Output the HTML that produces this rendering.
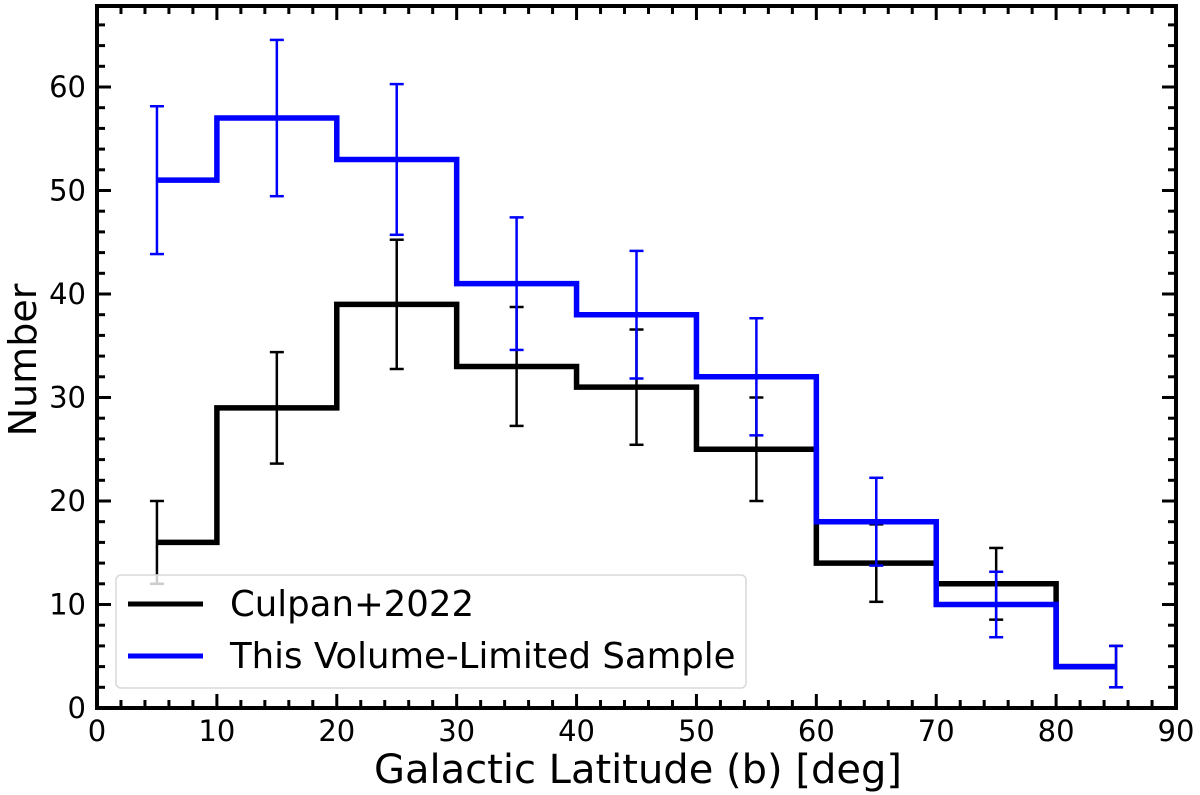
<!DOCTYPE html>
<html><head><meta charset="utf-8"><style>
html,body{margin:0;padding:0;background:#fff;}
svg{display:block;font-family:"DejaVu Sans","Liberation Sans",sans-serif;}
</style></head><body>
<svg id="chart" width="1200" height="795" viewBox="0 0 1200 795"></svg>
<script>
const centers=[5,15,25,35,45,55,65,75,85];
const culpan=[16,29,39,33,31,25,14,12,4];
const volume=[51,57,53,41,38,32,18,10,4];
const xTicks=[0,10,20,30,40,50,60,70,80,90];
const yTicks=[0,10,20,30,40,50,60];
const L=97,R=1176,T=6,B=708;
const xs=v=>L+(v/90)*(R-L);
const ys=v=>B-v*10.35;
const svg=document.getElementById('chart');
const NS='http://www.w3.org/2000/svg';
function mk(tag,attrs,parent){const e=document.createElementNS(NS,tag);for(const k in attrs)e.setAttribute(k,attrs[k]);(parent||svg).appendChild(e);return e;}
function series(vals,color,name){
  const g=mk('g',{});
  
  
  let d='';
  vals.forEach((v,i)=>{const x0=xs(Math.max(centers[i]-5,5)),x1=xs(centers[i]+5>85?85:centers[i]+5);
    d+=(i===0?'M':'L')+x0+','+ys(v)+' L'+x1+','+ys(v)+' ';});
  const p=mk('path',{d:d,fill:'none',stroke:color,'stroke-width':5.5,'stroke-linejoin':'miter'},g);
  
  
  vals.forEach((v,i)=>{const e=Math.sqrt(v),x=xs(centers[i]);
    const eb=mk('g',{stroke:color,'stroke-width':2.5},g);
    
    
    mk('line',{x1:x,x2:x,y1:ys(v-e),y2:ys(v+e)},eb);
    mk('line',{x1:x-7,x2:x+7,y1:ys(v-e),y2:ys(v-e)},eb);
    mk('line',{x1:x-7,x2:x+7,y1:ys(v+e),y2:ys(v+e)},eb);
  });
}
series(culpan,'#000','culpan');
series(volume,'#0000ff','volume-limited');
const lg=mk('g',{});


mk('rect',{x:116,y:575,width:630,height:113,rx:5,fill:'#fff','fill-opacity':0.8,stroke:'#d9d9d9','stroke-width':1.5},lg);
[['Culpan+2022','#000',604],['This Volume-Limited Sample','#0000ff',656]].forEach(([t,c,y])=>{
  const l=mk('line',{x1:128,x2:203,y1:y,y2:y,stroke:c,'stroke-width':5},lg);
  
  
  const tx=mk('text',{x:230,y:y+12,'font-size':35.5,fill:'#000'},lg);
  tx.textContent=t;
  
  
});
const ax=mk('g',{stroke:'#000','stroke-width':3});


for(let v=0;v<=90;v+=2){const x=xs(v),len=v%10===0?14:8;
  mk('line',{x1:x,x2:x,y1:B,y2:B-len},ax);mk('line',{x1:x,x2:x,y1:T,y2:T+len},ax);}
for(let v=0;v<=66;v+=2){const y=ys(v),len=v%10===0?14:8;
  mk('line',{x1:L,x2:L+len,y1:y,y2:y},ax);mk('line',{x1:R,x2:R-len,y1:y,y2:y},ax);}
const fr=mk('rect',{x:L,y:T,width:R-L,height:B-T,fill:'none',stroke:'#000','stroke-width':4});


xTicks.forEach(v=>{const t=mk('text',{x:xs(v),y:741,'font-size':29,'text-anchor':'middle'});t.textContent=v;
  
  });
yTicks.forEach(v=>{const t=mk('text',{x:86,y:ys(v)+10,'font-size':29,'text-anchor':'end'});t.textContent=v;
  
  });
const xl=mk('text',{x:638,y:783,'font-size':40,'text-anchor':'middle'});xl.textContent='Galactic Latitude (b) [deg]';


const yl=mk('text',{x:0,y:0,'font-size':38,'text-anchor':'middle',transform:'translate(36,360) rotate(-90)'});yl.textContent='Number';


</script>
</body></html>
